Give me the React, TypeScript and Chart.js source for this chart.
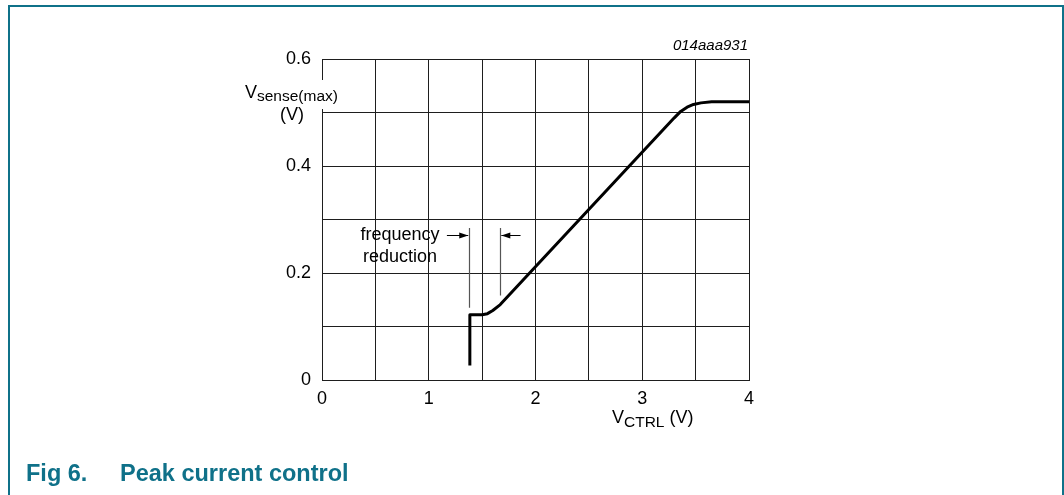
import React, { useEffect, useRef } from "react";
import { Chart, registerables } from "chart.js";

Chart.register(...registerables);

// ---- data ----
const curveX = [1.385, 1.385, 1.5, 1.55, 1.6, 1.67, 3.3, 3.36, 3.42, 3.48, 3.55, 3.65, 4.0];
const curveY = [0.027, 0.122, 0.122, 0.124, 0.13, 0.141, 0.49, 0.502, 0.51, 0.515, 0.518, 0.52, 0.52];
const xTickLabels = ["0", "1", "2", "3", "4"];
const yTickLabels = ["0", "0.2", "0.4", "0.6"];
const annotationLines = ["frequency", "reduction"];
const figureId = "014aaa931";
const captionNumber = "Fig 6.";
const captionTitle = "Peak current control";

const FONT = "'Liberation Sans', Arial, Helvetica, sans-serif";
const TEAL = "#0f7189";
const GRID = "#1e1e1e";

const overlayPlugin = {
  id: "overlay",
  afterDraw(chart: any) {
    const ctx = chart.ctx;
    const xs = chart.scales.x;
    const ys = chart.scales.y;
    const px = (v: number) => xs.getPixelForValue(v);
    const py = (v: number) => ys.getPixelForValue(v);
    ctx.save();

    // y-axis title with white background
    ctx.fillStyle = "#fff";
    ctx.fillRect(243, 80, 99, 29);
    ctx.fillStyle = "#000";
    ctx.textBaseline = "alphabetic";
    ctx.textAlign = "left";
    ctx.font = `18px ${FONT}`;
    ctx.fillText("V", 245, 98);
    ctx.font = `15.5px ${FONT}`;
    ctx.fillText("sense(max)", 257, 101);
    ctx.font = `18px ${FONT}`;
    ctx.fillText("(V)", 280, 120);

    // x-axis title
    ctx.font = `18px ${FONT}`;
    ctx.fillText("V", 612, 423);
    const vw = ctx.measureText("V").width;
    ctx.font = `15.5px ${FONT}`;
    ctx.fillText("CTRL", 612 + vw, 427);
    const cw = ctx.measureText("CTRL").width;
    ctx.font = `18px ${FONT}`;
    ctx.fillText(" (V)", 612 + vw + cw, 423);

    // figure id
    ctx.font = `italic 15px ${FONT}`;
    ctx.textAlign = "right";
    ctx.textBaseline = "middle";
    ctx.fillText(figureId, 748, 46);

    // annotation: frequency reduction
    ctx.font = `18px ${FONT}`;
    ctx.textAlign = "center";
    ctx.fillText(annotationLines[0], px(0.73), py(0.271));
    ctx.fillText(annotationLines[1], px(0.73), py(0.23));

    ctx.strokeStyle = "#555";
    ctx.lineWidth = 1.2;
    ctx.beginPath();
    ctx.moveTo(Math.round(px(1.378)) + 0.5, py(0.284));
    ctx.lineTo(Math.round(px(1.378)) + 0.5, py(0.135));
    ctx.moveTo(Math.round(px(1.668)) + 0.5, py(0.284));
    ctx.lineTo(Math.round(px(1.668)) + 0.5, py(0.158));
    ctx.stroke();

    const arrow = (x0: number, x1: number, y: number) => {
      const X0 = px(x0), X1 = px(x1), Y = Math.round(py(y)) + 0.5;
      ctx.strokeStyle = "#000";
      ctx.lineWidth = 1;
      ctx.beginPath();
      ctx.moveTo(X0, Y);
      ctx.lineTo(X1, Y);
      ctx.stroke();
      const dir = X1 > X0 ? 1 : -1;
      ctx.fillStyle = "#000";
      ctx.beginPath();
      ctx.moveTo(X1, Y);
      ctx.lineTo(X1 - dir * 9, Y - 3);
      ctx.lineTo(X1 - dir * 9, Y + 3);
      ctx.closePath();
      ctx.fill();
    };
    arrow(1.17, 1.37, 0.271);
    arrow(1.86, 1.68, 0.271);

    ctx.restore();
  },
};

export default function App() {
  const ref = useRef<HTMLCanvasElement | null>(null);

  useEffect(() => {
    if (!ref.current) return;
    const chart = new Chart(ref.current, {
      type: "line",
      data: {
        datasets: [
          {
            data: curveX.map((x, i) => ({ x, y: curveY[i] })),
            borderColor: "#000",
            borderWidth: 3,
            pointRadius: 0,
            tension: 0,
            fill: false,
            borderJoinStyle: "round",
          } as any,
        ],
      },
      options: {
        responsive: false,
        animation: false,
        events: [],
        layout: { padding: { top: 59, right: 315, bottom: 0, left: 0 } },
        plugins: { legend: { display: false }, tooltip: { enabled: false }, title: { display: false } },
        scales: {
          x: {
            type: "linear",
            min: 0,
            max: 4,
            afterFit: (s: any) => {
              s.height = 115;
            },
            ticks: {
              stepSize: 0.5,
              autoSkip: false,
              maxRotation: 0,
              padding: 8,
              color: "#000",
              font: { family: FONT, size: 18 },
              callback: (v: any) => {
                const n = Math.round(Number(v) * 2);
                return n % 2 === 0 ? xTickLabels[n / 2] : "";
              },
            },
            grid: { color: GRID, lineWidth: 1, drawTicks: false },
            border: { color: GRID, width: 1 },
          },
          y: {
            type: "linear",
            min: 0,
            max: 0.6,
            afterFit: (s: any) => {
              s.width = 322;
            },
            ticks: {
              stepSize: 0.1,
              autoSkip: false,
              padding: 11,
              color: "#000",
              font: { family: FONT, size: 18 },
              callback: (v: any) => {
                const n = Math.round(Number(v) * 10);
                return n % 2 === 0 ? yTickLabels[n / 2] : "";
              },
            },
            grid: { color: GRID, lineWidth: 1, drawTicks: false },
            border: { color: GRID, width: 1 },
          },
        },
      },
      plugins: [overlayPlugin],
    });
    return () => chart.destroy();
  }, []);

  return (
    <div>
      <canvas
        ref={ref}
        width={1064}
        height={495}
        style={{ position: "fixed", left: 0, top: 0, width: 1064, height: 495 }}
      />
      <div
        style={{
          position: "fixed",
          left: 8,
          top: 5,
          width: 1052,
          height: 520,
          borderTop: `2px solid ${TEAL}`,
          borderLeft: `2px solid ${TEAL}`,
          borderRight: `2px solid ${TEAL}`,
          pointerEvents: "none",
        }}
      />
      <div
        style={{
          position: "fixed",
          left: 26,
          top: 460,
          font: `bold 23.5px ${FONT}`,
          color: TEAL,
          whiteSpace: "pre",
          lineHeight: "27px",
        }}
      >
        <span>{captionNumber}</span>
        <span style={{ position: "absolute", left: 94 }}>{captionTitle}</span>
      </div>
    </div>
  );
}
